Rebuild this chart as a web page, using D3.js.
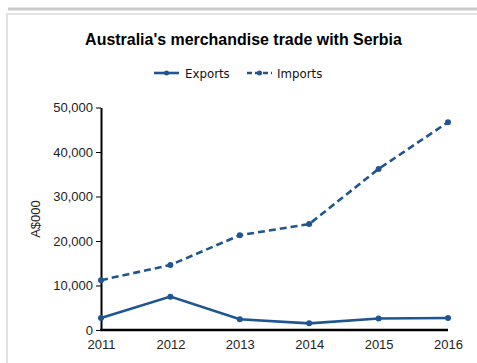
<!DOCTYPE html>
<html>
<head>
<meta charset="utf-8">
<script src="https://cdn.jsdelivr.net/npm/d3@7"></script>
<style>
  html, body { margin: 0; padding: 0; background: #fff; }
  svg { display: block; }
</style>
</head>
<body>
<svg id="chart" width="477" height="363"></svg>
<script>
// Australia's merchandise trade with Serbia, A$000
const years = [2011, 2012, 2013, 2014, 2015, 2016];
const exportsValues = [2700, 7500, 2400, 1500, 2600, 2700];
const importsValues = [11200, 14600, 21300, 23800, 36200, 46700];
const yTicks = [0, 10000, 20000, 30000, 40000, 50000];
const seriesNames = ["Exports", "Imports"];

const color = "#1d5690";
const svg = d3.select("#chart");

// page frame
svg.append("rect").attr("x", 8).attr("y", 7.5).attr("width", 469).attr("height", 3).attr("fill", "#c9c9c9");
svg.append("rect").attr("x", 6).attr("y", 13).attr("width", 471).attr("height", 2).attr("fill", "#e2e2e2");
svg.append("rect").attr("x", 6).attr("y", 13).attr("width", 2).attr("height", 350).attr("fill", "#e2e2e2");

const x = d3.scalePoint().domain(years).range([101, 448]);
const y = d3.scaleLinear().domain([0, 50000]).range([330, 107.5]);

// title, sized to span its box
const title = svg.append("text")
  .attr("x", 243.5).attr("y", 45)
  .attr("text-anchor", "middle")
  .attr("font-family", "Liberation Sans, Arial, sans-serif")
  .attr("font-weight", "bold")
  .attr("font-size", 15)
  .attr("fill", "#000")
  .text("Australia's merchandise trade with Serbia");
const tw = title.node().getComputedTextLength();
title.attr("font-size", Math.min(16, 15 * 317 / tw));

// y axis
const yAxis = svg.append("g")
  .attr("transform", "translate(101,0)")
  .call(d3.axisLeft(y).tickValues(yTicks).tickSize(5).tickSizeOuter(0).tickPadding(3)
    .tickFormat(d3.format(",")));
yAxis.select(".domain").attr("stroke", "#000").attr("stroke-width", 2);
yAxis.selectAll(".tick line").attr("stroke", "#000").attr("stroke-width", 1);
yAxis.selectAll(".tick text")
  .attr("font-family", "Liberation Sans, Arial, sans-serif")
  .attr("font-size", 13).attr("fill", "#222");

// x axis
const xAxis = svg.append("g")
  .attr("transform", "translate(0,330)")
  .call(d3.axisBottom(x).tickSize(0).tickSizeOuter(0).tickPadding(10).tickFormat(d3.format("d")));
xAxis.select(".domain").attr("stroke", "#000").attr("stroke-width", 2.5)
  .attr("d", `M100,0H448`);
xAxis.selectAll(".tick text")
  .attr("font-family", "Liberation Sans, Arial, sans-serif")
  .attr("font-size", 13).attr("fill", "#222");

// y axis title
svg.append("text")
  .attr("transform", "translate(40,219) rotate(-90)")
  .attr("text-anchor", "middle")
  .attr("font-family", "Liberation Sans, Arial, sans-serif")
  .attr("font-size", 13).attr("fill", "#222")
  .text("A$000");

const line = d3.line().x((d, i) => x(years[i])).y(d => y(d));

const series = [
  { name: seriesNames[0], values: exportsValues, dash: null },
  { name: seriesNames[1], values: importsValues, dash: "7,4" }
];

series.forEach(s => {
  svg.append("path")
    .datum(s.values)
    .attr("d", line)
    .attr("fill", "none")
    .attr("stroke", color)
    .attr("stroke-width", 2.6)
    .attr("stroke-dasharray", s.dash);
  svg.selectAll(null)
    .data(s.values)
    .enter().append("circle")
    .attr("cx", (d, i) => x(years[i]))
    .attr("cy", d => y(d))
    .attr("r", 3)
    .attr("fill", color);
});

// legend
const legendItems = [
  { name: seriesNames[0], x0: 154, dash: null, tx: 185 },
  { name: seriesNames[1], x0: 247, dash: "5,3", tx: 277 }
];
legendItems.forEach(l => {
  svg.append("line")
    .attr("x1", l.x0).attr("x2", l.x0 + 25)
    .attr("y1", 73).attr("y2", 73)
    .attr("stroke", color).attr("stroke-width", 2.6)
    .attr("stroke-dasharray", l.dash);
  svg.append("circle").attr("cx", l.x0 + 12.5).attr("cy", 73).attr("r", 2.5).attr("fill", color);
  svg.append("text")
    .attr("x", l.tx).attr("y", 77.5)
    .attr("font-family", "DejaVu Sans, Verdana, sans-serif")
    .attr("font-size", 11.8).attr("fill", "#111")
    .text(l.name);
});
</script>
</body>
</html>
